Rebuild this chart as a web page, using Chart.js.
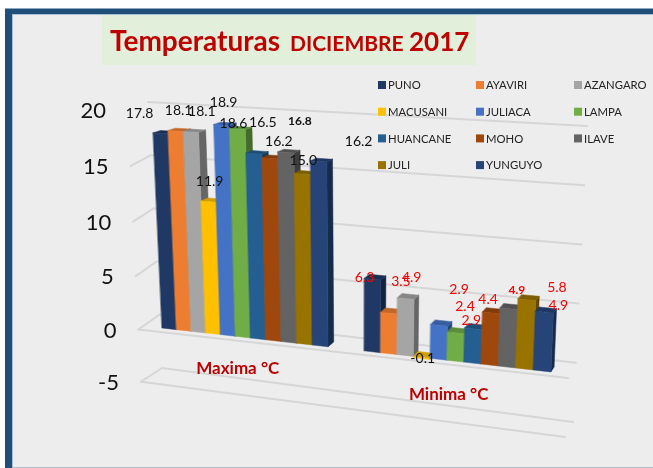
<!DOCTYPE html>
<html>
<head>
<meta charset="utf-8">
<style>html,body{margin:0;padding:0;background:#fff}canvas{display:block}</style>
<script src="https://cdn.jsdelivr.net/npm/chart.js@4"></script>
</head>
<body>
<canvas id="c" width="653" height="468"></canvas>
<script>
const categories = ['Maxima °C', 'Minima °C'];
const stations = ['PUNO','AYAVIRI','AZANGARO','MACUSANI','JULIACA','LAMPA','HUANCANE','MOHO','ILAVE','JULI','YUNGUYO'];
const maxima = [17.8,18.1,18.1,11.9,18.9,18.6,16.5,16.2,16.8,15.0,16.2];
const minima = [6.3,3.5,4.9,-0.1,2.9,2.4,2.9,4.4,4.9,5.8,4.9];
const yTicks = [-5,0,5,10,15,20];
const colors = ['#1F3864','#ED7D31','#A5A5A5','#FFC000','#4472C4','#70AD47','#255E91','#9E480E','#636363','#997300','#264478'];

// Hand-placed data label shifts from each bar's top, as in the original sheet
const maxLabelShift = [[-21,-20],[3,-21],[11,-20],[1,-20],[2,-22],[-4,-6],[9,-31],[9,-17],[14,-31],[1,-13],[40,-20]];
const minLabelShift = [[-8,-2],[12,-32],[6,-21],[1,0],[20,-36],[9,-26],[-2,-8],[-3,-13],[8,-19],[30,-12],[14,-7]];
const boldLabels = new Set(['0:8','1:8']);

const FONT = 'Lato, Carlito, sans-serif';
const view = {vpX:844, vpY:-87, depth:0.011};

function shade(hex, f){
  const n = parseInt(hex.slice(1),16);
  const c = s => Math.round(((n>>s)&255)*f);
  return `rgb(${c(16)},${c(8)},${c(0)})`;
}
// Perspective view of the bar plane, fed by the scale's pixel positions
function project(chart, px, v){
  const a = chart.chartArea;
  const u = (px - a.left) / a.width;
  const xs = 146 + 375*u + 50*u*u;
  const k = xs - 162;
  return {x: xs + v*(-0.5 + k/388), y: 328 + 0.113*k - v*(10.96 + 0.00268*k)};
}
function deepen(p){
  return {x: p.x + view.depth*(view.vpX-p.x), y: p.y + view.depth*(view.vpY-p.y)};
}
function quad(ctx, pts, col){
  ctx.beginPath();
  pts.forEach((p,i)=> i ? ctx.lineTo(p.x,p.y) : ctx.moveTo(p.x,p.y));
  ctx.closePath();
  ctx.fillStyle = col; ctx.strokeStyle = col; ctx.lineWidth = 0.5;
  ctx.fill(); ctx.stroke();
}
// Wall and floor corners for a value, interpolated between the corners of the box
function wall(v){
  const d = 20 - v;
  return {
    frontL:{x:128+d*0.52, y:109.5+d*11.44-d*d*0.0221},
    backL:{x:148+d*0.56, y:102+d*10.64},
    backR:{x:587-d*0.56, y:126+d*11.84},
    frontR:{x:568-(-v)*0.6, y:378-v*11.8}
  };
}
function seg(ctx,a,b){ctx.beginPath();ctx.moveTo(a.x,a.y);ctx.lineTo(b.x,b.y);ctx.stroke();}

const scene = {
  id:'scene',
  beforeDraw(chart){
    const ctx = chart.ctx;
    ctx.save();
    ctx.fillStyle='#ffffff'; ctx.fillRect(0,0,653,468);
    ctx.fillStyle='#ededed'; ctx.fillRect(5,8,648,460);
    ctx.fillStyle='#8fa8bf'; ctx.fillRect(5,8,648,1);
    ctx.fillStyle='#1F4E79'; ctx.fillRect(5,9,648,5); ctx.fillRect(5,9,7,459);
    ctx.fillStyle='#a9bfd3'; ctx.fillRect(12,14,641,1); ctx.fillRect(12,14,1,454);
    ctx.fillStyle='#b4bcc6'; ctx.fillRect(12,467,641,1);
    ctx.fillStyle='#E2EFDA'; ctx.fillRect(102,15,374,50);
    ctx.fillStyle='#C00000'; ctx.textBaseline='alphabetic'; ctx.textAlign='left';
    ctx.font='bold 28px '+FONT; ctx.fillText('Temperaturas',110,51);
    ctx.font='bold 21px '+FONT; ctx.fillText('DICIEMBRE',290,51);
    ctx.font='bold 26px '+FONT; ctx.fillText('2017',409,51);
    ctx.restore();
    // tick labels follow the receding left edge of the box
    const y = chart.scales.y;
    y.getLabelItems(chart.chartArea).forEach((it,i)=>{
      const w = wall(y.ticks[i].value);
      it.options.translation = [w.frontL.x - 22, w.frontL.y + 1];
    });
  },
  beforeDatasetsDraw(chart){
    const ctx = chart.ctx;
    const y = chart.scales.y;
    ctx.save();
    ctx.strokeStyle='#d6d6d6'; ctx.lineWidth=2; ctx.lineCap='round';
    y.ticks.forEach(t=>{
      const w = wall(t.value);
      seg(ctx,w.backL,w.backR);
      if (t.value < 20) seg(ctx,w.frontL,w.backL);
      if (t.value <= 0) seg(ctx,w.frontL,w.frontR);
    });
    categories.forEach((c,ci)=>{
      chart.data.datasets.forEach((ds,di)=>{
        const el = chart.getDatasetMeta(di).data[ci];
        const l = el.x-el.width/2, r = el.x+el.width/2;
        const vTop = y.getValueForPixel(Math.min(el.y,el.base));
        const vBot = y.getValueForPixel(Math.max(el.y,el.base));
        const fl = project(chart,l,vTop), fr = project(chart,r,vTop);
        const bl = project(chart,l,vBot), br = project(chart,r,vBot);
        quad(ctx,[fr,br,deepen(br),deepen(fr)],shade(ds.backgroundColor,0.62));
        quad(ctx,[fl,fr,deepen(fr),deepen(fl)],shade(ds.backgroundColor,0.82));
        quad(ctx,[fl,fr,br,bl],ds.backgroundColor);
      });
    });
    ctx.restore();
    return false;
  },
  afterDraw(chart){
    const ctx = chart.ctx;
    const xs = chart.scales.x;
    ctx.save();
    ctx.textAlign='center'; ctx.textBaseline='middle';
    [maxima,minima].forEach((vals,ci)=>{
      const shifts = ci ? minLabelShift : maxLabelShift;
      vals.forEach((v,di)=>{
        const el = chart.getDatasetMeta(di).data[ci];
        const p = project(chart,el.x,v);
        ctx.font = boldLabels.has(ci+':'+di) ? 'bold 12px '+FONT : '14px '+FONT;
        ctx.fillStyle = ci===0 || v<0 ? '#111111' : '#FF0000';
        ctx.fillText(v.toFixed(1),p.x+shifts[di][0],p.y+shifts[di][1]);
      });
    });
    ctx.font='bold 17px '+FONT; ctx.fillStyle='#C00000';
    categories.forEach((c,i)=>{
      const p = project(chart,xs.getPixelForValue(i),-2.85);
      ctx.fillText(c,p.x-6,p.y);
    });
    ctx.textAlign='left';
    ctx.font='11.3px '+FONT;
    stations.forEach((s,i)=>{
      const col = i%3, row = Math.floor(i/3);
      const lx = 378 + col*98, ly = 85 + row*26.7;
      ctx.fillStyle=colors[i]; ctx.fillRect(lx,ly-4,8,8);
      ctx.fillStyle='#222222'; ctx.fillText(s,lx+10,ly+0.5);
    });
    ctx.restore();
  }
};

new Chart(document.getElementById('c'),{
  type:'bar',
  data:{
    labels:categories,
    datasets:stations.map((s,i)=>({label:s,data:[maxima[i],minima[i]],backgroundColor:colors[i]}))
  },
  options:{
    responsive:false,animation:false,
    layout:{padding:{top:110,bottom:86,left:0,right:60}},
    datasets:{bar:{categoryPercentage:0.83,barPercentage:1}},
    plugins:{legend:{display:false},title:{display:false},tooltip:{enabled:false}},
    scales:{
      x:{display:false,grid:{display:false}},
      y:{min:yTicks[0],max:yTicks[yTicks.length-1],
         afterBuildTicks(ax){ax.ticks=yTicks.map(v=>({value:v}));},
         afterFit(ax){ax.width=130;},
         grid:{display:false},border:{display:false},
         ticks:{color:'#111111',font:{family:FONT,size:22},padding:0}}
    }
  },
  plugins:[scene]
});
</script>
</body>
</html>
